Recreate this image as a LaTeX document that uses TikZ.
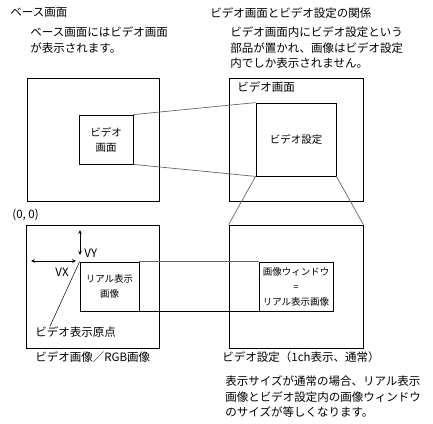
\documentclass[tikz,border=0pt]{standalone}
\usepackage{fontspec}
\setmainfont{Noto Sans CJK JP}
\usetikzlibrary{arrows.meta}

\begin{document}
\begin{tikzpicture}[x=1pt, y=-1pt, line width=0.8pt, line join=miter,
  txt/.style={inner sep=0pt, align=left, anchor=north west, font=\fontsize{11.5}{15.7}\selectfont},
  lbl/.style={inner sep=0pt, anchor=west, font=\fontsize{11.5}{14}\selectfont},
  frame/.style={draw, inner sep=0pt, align=center, font=\fontsize{10.5}{15}\selectfont},
  smallframe/.style={frame, font=\fontsize{9.5}{15}\selectfont},
  proj/.style={draw=black!60, line width=0.7pt},
  dimarrow/.style={{Stealth[length=4pt,width=3.5pt]}-{Stealth[length=4pt,width=3.5pt]}, line width=0.6pt}]
  \useasboundingbox (0,0) rectangle (433,423);

  % captions, top row
  \node[lbl] (basetitle) at (10,13) {ベース画面};
  \node[txt] (basenote) at (30,26.3) {ベース画面にはビデオ画面\\が表示されます。};
  \node[lbl] (reltitle) at (210,13) {ビデオ画面とビデオ設定の関係};
  \node[txt] (relnote) at (230,26.3) {ビデオ画面内にビデオ設定という\\部品が置かれ、画像はビデオ設定\\内でしか表示されません。};

  % top row frames
  \node[frame, minimum width=132, minimum height=123] (base) at (93,139.5) {};
  \node[frame, minimum width=54, minimum height=49] (vidsmall) at (106,139.5) {ビデオ\\画面};
  \node[frame, minimum width=134, minimum height=123] (vscreen) at (296,139.5) {};
  \node[lbl] (vscreenlbl) at (237,87) {ビデオ画面};
  \node[frame, minimum width=80, minimum height=73] (vset) at (296,139.5) {ビデオ設定};
  \draw[proj] (vidsmall.north east) -- (vset.north west);
  \draw[proj] (vidsmall.south east) -- (vset.south west);

  % bottom row frames
  \node[lbl] (zero) at (12,215) {(0, 0)};
  \node[frame, minimum width=133, minimum height=123] (rgb) at (92.5,286.5) {};
  \node[smallframe, minimum width=59, minimum height=49] (real) at (109.5,286.5) {リアル表示\\画像};
  \node[frame, minimum width=134, minimum height=123] (vsetbig) at (296,286.5) {};
  \node[smallframe, minimum width=74, minimum height=49] (window) at (296,286.5) {画像ウィンドウ\\=\\リアル表示画像};
  \draw[proj] (vset.south west) -- (vsetbig.north west);
  \draw[proj] (vset.south east) -- (vsetbig.north east);
  \draw[proj] (real.north east) -- (window.north west);
  \draw (real.south east) -- (window.south west);

  % offsets of the video origin
  \coordinate (vytop) at (80,230);
  \coordinate (vybot) at (80,255);
  \coordinate (vxleft) at (31,261);
  \coordinate (vxright) at (76,261);
  \draw[dimarrow] (vytop) -- (vybot);
  \draw[dimarrow] (vxleft) -- (vxright);
  \node[lbl] (vy) at (84,253) {VY};
  \node[lbl] (vx) at (55,272) {VX};
  \node[lbl] (origin) at (35,332) {ビデオ表示原点};
  \draw[line width=0.5pt] (real.north west) -- ([xshift=15pt]origin.north west);

  % captions, bottom row
  \node[lbl] (rgbtitle) at (35,357) {ビデオ画像／RGB画像};
  \node[lbl] (settitle) at (222,357) {ビデオ設定（1ch表示、通常）};
  \node[txt] (setnote) at (225,375.3) {表示サイズが通常の場合、リアル表示\\画像とビデオ設定内の画像ウィンドウ\\のサイズが等しくなります。};
\end{tikzpicture}
\end{document}
